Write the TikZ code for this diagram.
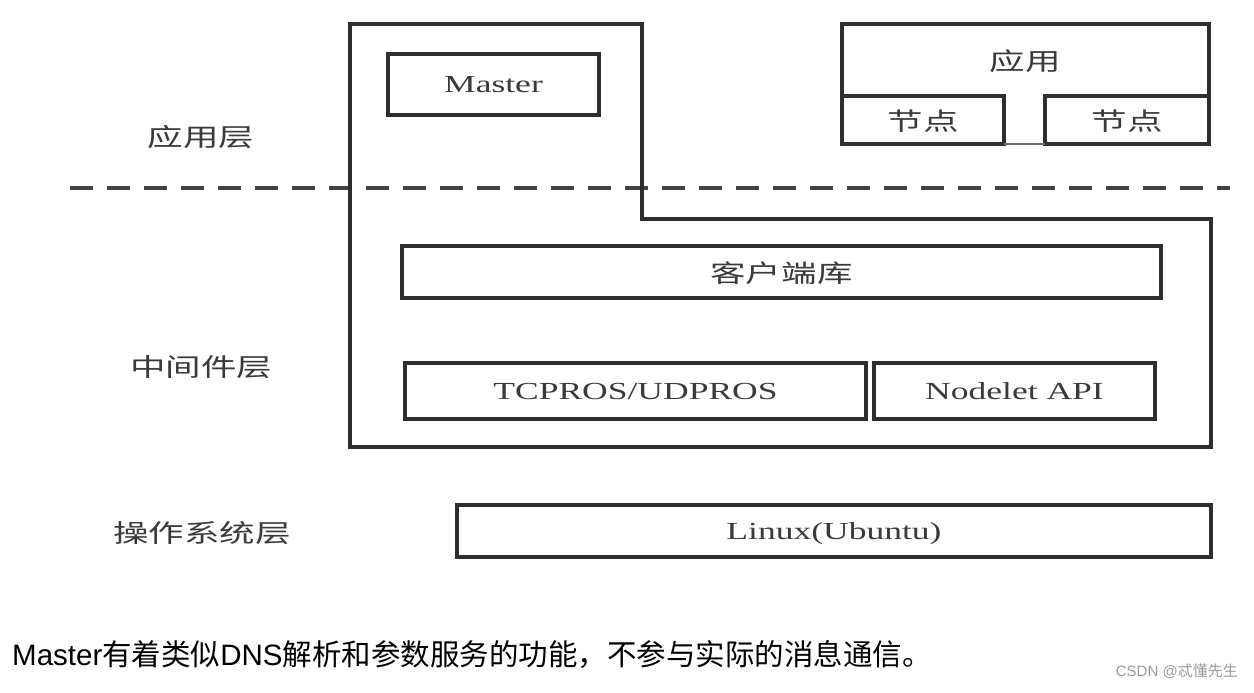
\documentclass[tikz,border=0pt]{standalone}
\usepackage{fontspec}
\setmainfont{Liberation Serif}
\newfontfamily\cjk{Noto Sans CJK SC}
\newfontfamily\arialf{Liberation Sans}
\definecolor{linec}{HTML}{2E2E2E}
\definecolor{textc}{HTML}{3A3A3A}
\definecolor{markc}{HTML}{9A9A9A}
\newcommand{\wide}[1]{\scalebox{1.45}[1]{#1}}
\tikzset{
  box/.style={draw=linec, line width=3.2pt, inner sep=0pt, outer sep=0pt, text=textc, text depth=0pt,
    font=\fontsize{24.5}{28}\selectfont},
  layerlabel/.style={text=textc, inner sep=0pt, font=\cjk\fontsize{25}{28}\selectfont},
  frame/.style={draw=linec, line width=3.2pt},
  sepline/.style={draw=linec!90, line width=3.5pt, dash pattern=on 23pt off 14pt}
}
\begin{document}
\begin{tikzpicture}[x=1pt, y=-1pt]
\useasboundingbox[fill=white] (0,0) rectangle (1254,693);

% dashed separator
\coordinate (dl) at (70,188);
\coordinate (dr) at (1230,188);
\draw[sepline] (dl) -- (dr);

% outer L-shaped frame
\draw[frame] (350,24) -- (642,24) -- (642,219) -- (1211,219) -- (1211,447) -- (350,447) -- cycle;

% Master
\node[box, minimum width=211pt, minimum height=61pt] (master) at (493.5,84.5) {\wide{Master}};

% application block (T-shaped: open towards the gap between the two nodes)
\node[box, draw=none, minimum width=367pt, minimum height=72pt] (app) at (1025.5,60) {\wide{\cjk 应用}};
\node[box, minimum width=162pt, minimum height=48pt] (n1) at (923,120) {\wide{\cjk 节点}};
\node[box, minimum width=164pt, minimum height=48pt] (n2) at (1127,120) {\wide{\cjk 节点}};
\draw[frame, line join=miter] (app.south west) -- (app.north west) -- (app.north east) -- (app.south east);
\draw[draw=linec!70, line width=1.5pt] (n1.south east) -- (n2.south west);

% middleware
\node[box, minimum width=759pt, minimum height=52pt] (client) at (781.5,272) {\wide{\cjk 客户端库}};
\node[box, minimum width=461pt, minimum height=56pt] (tcp) at (635.5,391) {\wide{TCPROS/UDPROS}};
\node[box, minimum width=281pt, minimum height=56pt] (nodelet) at (1014.5,391) {\wide{Nodelet API}};

% OS
\node[box, minimum width=754pt, minimum height=52pt] (linux) at (834,531) {\wide{Linux(Ubuntu)}};

% layer labels
\node[layerlabel] (l1) at (201,137) {\scalebox{1.42}[1]{应用层}};
\node[layerlabel] (l2) at (201,367) {\scalebox{1.42}[1]{中间件层}};
\node[layerlabel] (l3) at (202,533) {\scalebox{1.42}[1]{操作系统层}};

% caption
\node[anchor=base west, inner sep=0pt, text=black, font=\fontsize{29.5}{34}\selectfont] (cap) at (12,665)
  {{\arialf Master}{\cjk 有着类似}{\arialf DNS}{\cjk 解析和参数服务的功能，不参与实际的消息通信。}};

% watermark
\node[anchor=base east, inner sep=0pt, text=markc, font=\fontsize{15}{18}\selectfont] (wm) at (1238,676)
  {{\arialf CSDN @}{\cjk 忒懂先生}};
\end{tikzpicture}
\end{document}
